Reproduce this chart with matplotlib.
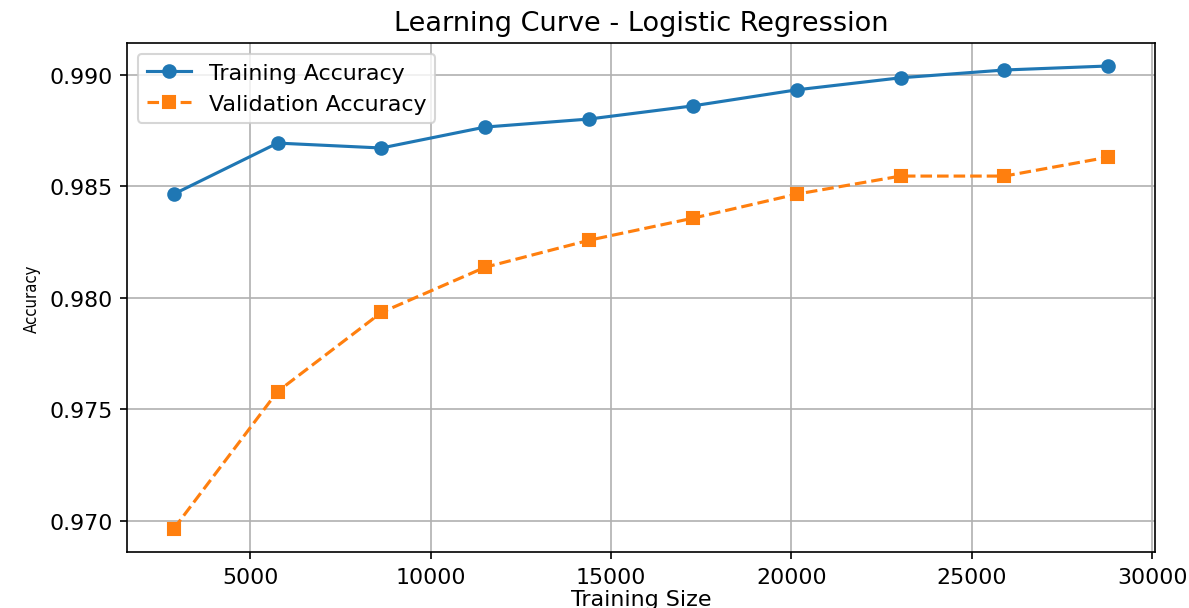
import matplotlib
matplotlib.use("Agg")
from matplotlib import pyplot as plt
import numpy as np

train_sizes = [2878, 5756, 8634, 11512, 14390, 17268, 20146, 23024, 25902, 28781]
train_acc = [0.98465, 0.98694, 0.98672, 0.98766, 0.98802, 0.98861, 0.98933, 0.98987, 0.99022, 0.99040]
val_acc = [0.96963, 0.97579, 0.97934, 0.98137, 0.98258, 0.98357, 0.98465, 0.98546, 0.98546, 0.98631]

plt.rcParams["xtick.labelsize"] = 10.6
plt.rcParams["ytick.labelsize"] = 10.6

fig = plt.figure(figsize=(1189 / 150, 609 / 150), dpi=150)
ax = fig.add_axes([0.1068, 0.092, 0.8646, 0.836])
ax.plot(train_sizes, train_acc, marker="o", label="Training Accuracy")
ax.plot(train_sizes, val_acc, marker="s", linestyle="--", label="Validation Accuracy")
ax.set_title("Learning Curve - Logistic Regression", fontsize=13)
ax.set_xlabel("Training Size", fontsize=10.6, labelpad=1)
ax.set_ylabel("Accuracy", fontsize=8, fontstretch="condensed")
ax.set_yticks([0.970, 0.975, 0.980, 0.985, 0.990])
ax.legend(loc="upper left", fontsize=10.6)
ax.grid(True)

fig.savefig("out.png", dpi=150)
plt.close(fig)
